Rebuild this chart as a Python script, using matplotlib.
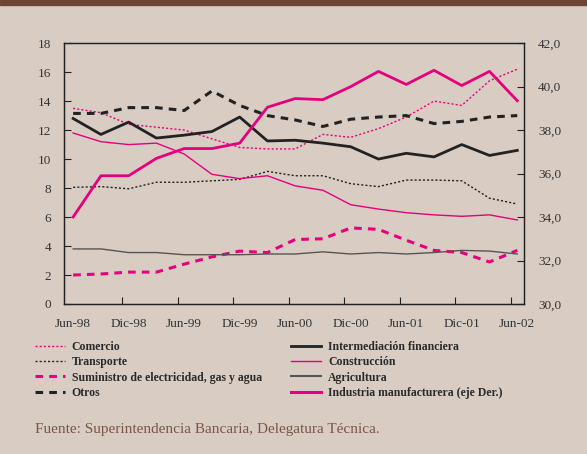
import matplotlib.pyplot as plt
from matplotlib.lines import Line2D

# Dades (valors trimestrals, Jun-98 a Jun-02)
periods = ["Jun-98", "Sep-98", "Dic-98", "Mar-99", "Jun-99", "Sep-99", "Dic-99", "Mar-00",
           "Jun-00", "Sep-00", "Dic-00", "Mar-01", "Jun-01", "Sep-01", "Dic-01", "Mar-02", "Jun-02"]
tick_labels = ["Jun-98", "Dic-98", "Jun-99", "Dic-99", "Jun-00", "Dic-00", "Jun-01", "Dic-01", "Jun-02"]

comercio = [13.5, 13.2, 12.4, 12.2, 12.0, 11.4, 10.8, 10.7, 10.7, 11.7, 11.5, 12.1, 12.9, 14.0, 13.7, 15.4, 16.2]
transporte = [8.05, 8.1, 7.95, 8.4, 8.4, 8.5, 8.6, 9.15, 8.85, 8.85, 8.3, 8.1, 8.55, 8.55, 8.5, 7.3, 6.9]
suministro = [2.0, 2.07, 2.2, 2.2, 2.75, 3.25, 3.65, 3.55, 4.45, 4.5, 5.25, 5.15, 4.4, 3.7, 3.55, 2.9, 3.7]
otros = [13.15, 13.15, 13.55, 13.55, 13.35, 14.7, 13.7, 13.0, 12.7, 12.25, 12.75, 12.9, 13.0, 12.45, 12.6, 12.9, 13.0]
intermediacion = [12.8, 11.7, 12.55, 11.45, 11.65, 11.9, 12.9, 11.25, 11.3, 11.1, 10.85, 10.0, 10.4, 10.15, 11.0, 10.25, 10.6]
construccion = [11.8, 11.2, 11.0, 11.1, 10.35, 8.95, 8.65, 8.85, 8.15, 7.85, 6.85, 6.55, 6.3, 6.15, 6.05, 6.15, 5.8]
agricultura = [3.8, 3.8, 3.55, 3.55, 3.4, 3.4, 3.4, 3.45, 3.45, 3.6, 3.45, 3.55, 3.45, 3.55, 3.7, 3.65, 3.45]
industria = [34.0, 35.9, 35.9, 36.7, 37.15, 37.15, 37.4, 39.05, 39.45, 39.4, 40.0, 40.7, 40.1, 40.75, 40.05, 40.7, 39.35]

bg = "#d9cdc3"
magenta = "#e6007e"
black = "#222222"
gray = "#555555"

plt.rcParams["font.family"] = ["Liberation Serif", "DejaVu Serif"]

fig = plt.figure(figsize=(5.87, 4.54), dpi=100, facecolor=bg)

# Franja marró de dalt
fig.patches.append(plt.Rectangle((0, 1 - 5 / 454), 1, 5 / 454, transform=fig.transFigure,
                                 color="#6e4436", zorder=0))

ax = fig.add_axes([0.109, 0.3304, 0.784, 0.5746])
ax.set_facecolor(bg)
ax2 = ax.twinx()

x = list(range(len(periods)))

ax.plot(x, comercio, color=magenta, lw=1.0, ls=(0, (1.5, 1.5)))
ax.plot(x, transporte, color=black, lw=1.0, ls=(0, (1.5, 1.5)))
ax.plot(x, suministro, color=magenta, lw=2.2, ls=(0, (2.5, 2)))
ax.plot(x, otros, color=black, lw=2.2, ls=(0, (2.5, 2)))
ax.plot(x, intermediacion, color=black, lw=2.0)
ax.plot(x, construccion, color=magenta, lw=1.0)
ax.plot(x, agricultura, color=gray, lw=1.0)
ax2.plot(x, industria, color=magenta, lw=2.0)

ax.set_xlim(-0.33, 16.25)
ax.set_ylim(0, 18)
ax2.set_ylim(30, 42)
ax.set_yticks(range(0, 19, 2))
ax2.set_yticks(range(30, 43, 2))
ax2.set_yticklabels([("%.1f" % v).replace(".", ",") for v in range(30, 43, 2)])

# Etiquetes centrades als punts, marques una mica a l'esquerra
ax.set_xticks(list(range(0, 17, 2)))
ax.set_xticklabels(tick_labels)
ax.set_xticks([2 * k - 0.23 for k in range(1, 9)], minor=True)
ax.tick_params(axis="x", which="major", length=0, pad=10)
ax.tick_params(axis="x", which="minor", direction="in", length=5, width=0.8, color=black)
ax.tick_params(axis="y", direction="in", length=5, width=0.8, pad=9, color=black)
ax2.tick_params(axis="y", direction="in", length=5, width=0.8, pad=10, color=black)

for a in (ax, ax2):
    a.tick_params(labelsize=9.5, labelcolor="#333333")
    for s in a.spines.values():
        s.set_color(black)
        s.set_linewidth(0.9)

# Llegenda
handles = [
    Line2D([], [], color=magenta, lw=1.0, ls=(0, (1.5, 1.5))),
    Line2D([], [], color=black, lw=1.0, ls=(0, (1.5, 1.5))),
    Line2D([], [], color=magenta, lw=2.2, ls=(0, (2.5, 2))),
    Line2D([], [], color=black, lw=2.2, ls=(0, (2.5, 2))),
    Line2D([], [], color=black, lw=2.0),
    Line2D([], [], color=magenta, lw=1.0),
    Line2D([], [], color=gray, lw=1.5),
    Line2D([], [], color=magenta, lw=2.2),
]
labels = ["Comercio", "Transporte", "Suministro de electricidad, gas y agua", "Otros",
          "Intermediación financiera", "Construcción", "Agricultura",
          "Industria manufacturera (eje Der.)"]
leg = fig.legend(handles, labels, ncol=2, loc="upper left", bbox_to_anchor=(0.05, 0.262),
                 frameon=False, prop={"weight": "bold", "size": 8.5},
                 handlelength=2.5, handletextpad=0.6, columnspacing=2.5,
                 labelspacing=0.28, borderpad=0)
for t in leg.get_texts():
    t.set_color("#2a2a2a")

fig.text(0.06, 0.053, "Fuente: Superintendencia Bancaria, Delegatura Técnica.",
         fontsize=11, color="#7a5548", va="center")

fig.savefig("out.png", dpi=100, facecolor=bg)
